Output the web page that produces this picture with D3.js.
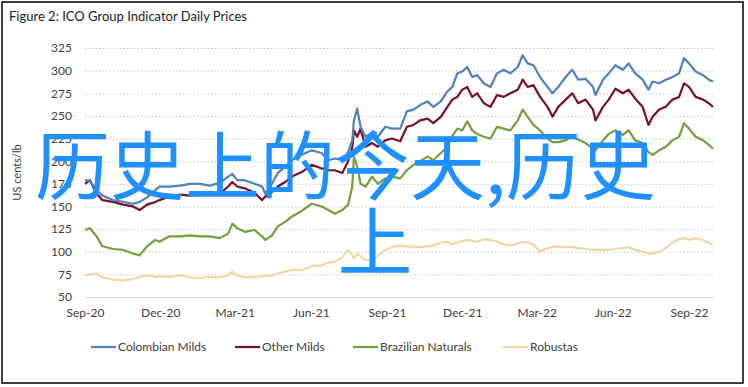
<!DOCTYPE html>
<html>
<head>
<meta charset="utf-8">
<script src="https://cdn.jsdelivr.net/npm/d3@7"></script>
<style>
  body { margin: 0; background: #fff; }
  svg { display: block; font-family: Lato, "Open Sans", sans-serif; }
</style>
</head>
<body>
<script>
// ICO group indicator prices, US cents/lb
const dates = [
  "2020-09-01","2020-09-07","2020-09-15","2020-09-22","2020-10-05","2020-10-17","2020-10-29","2020-11-06",
  "2020-11-15","2020-11-25","2020-11-30","2020-12-12","2020-12-25","2021-01-06","2021-01-18","2021-01-30",
  "2021-02-11","2021-02-21","2021-02-26","2021-03-04","2021-03-13","2021-03-25","2021-04-03","2021-04-07",
  "2021-04-15","2021-04-22","2021-05-01","2021-05-09","2021-05-21","2021-06-02","2021-06-14","2021-06-22",
  "2021-06-30","2021-07-09","2021-07-16","2021-07-21","2021-07-23","2021-07-27","2021-07-31","2021-08-06",
  "2021-08-14","2021-08-21","2021-08-30","2021-09-07","2021-09-17","2021-09-25","2021-10-03","2021-10-11",
  "2021-10-20","2021-10-27","2021-11-05","2021-11-13","2021-11-19","2021-11-25","2021-12-01","2021-12-07",
  "2021-12-13","2021-12-19","2021-12-27","2022-01-04","2022-01-12","2022-01-20","2022-01-28","2022-02-06",
  "2022-02-12","2022-02-18","2022-02-25","2022-03-05","2022-03-14","2022-03-20","2022-03-27","2022-04-05",
  "2022-04-13","2022-04-20","2022-04-29","2022-05-08","2022-05-11","2022-05-20","2022-05-27","2022-06-04",
  "2022-06-13","2022-06-20","2022-06-28","2022-07-07","2022-07-14","2022-07-19","2022-07-27","2022-08-04",
  "2022-08-12","2022-08-20","2022-08-26","2022-09-01","2022-09-09","2022-09-18","2022-09-25","2022-09-30"
];

const colombianMilds = [
  179,178,168,162,157,155,153,155,160,168,172,172,173,175,175,173,
  176,183,186,179,179,175,172,164,175,187,194,201,207,212,209,201,
  203,201,210,223,245,258,238,227,231,227,238,236,236,255,257,262,
  266,260,266,277,282,297,299,304,293,295,286,282,297,301,297,304,
  317,308,306,293,282,275,282,293,301,290,291,282,273,290,297,306,
  301,308,297,290,279,288,286,290,293,297,314,308,299,295,290,288
];

const otherMilds = [
  175,179,164,157,155,152,150,146,152,155,157,161,163,162,164,163,
  164,172,177,172,170,165,157,161,166,172,177,183,188,196,192,190,
  190,187,200,215,234,227,236,216,220,216,223,225,222,238,240,245,
  247,242,249,260,268,271,279,282,271,275,264,260,273,271,275,279,
  290,282,284,271,260,249,260,268,275,264,268,257,245,260,268,280,
  275,279,269,260,240,249,257,260,268,271,286,282,271,268,264,260
];

const brazilianNaturals = [
  124,126,117,106,103,102,98,96,106,113,111,117,117,118,117,117,
  115,120,131,126,122,124,117,113,118,128,133,139,145,153,150,146,
  142,146,152,172,205,194,175,172,183,175,181,183,181,190,196,200,
  205,201,209,216,228,236,234,244,234,230,227,225,238,236,234,245,
  257,249,240,234,225,221,221,223,227,224,220,214,212,223,230,234,
  229,234,223,220,210,207,212,216,223,227,242,236,227,223,218,214
];

const robustas = [
  74,75,76,72,69,68,70,72,74,72,73,72,74,72,71,72,
  72,74,78,74,72,72,73,73,74,76,78,80,80,84,85,88,
  89,94,102,96,93,98,95,91,90,96,102,105,107,106,105,105,
  106,107,110,111,108,110,112,113,112,111,114,113,111,108,107,109,
  111,110,108,100,104,105,106,105,105,104,103,102,102,102,102,103,
  104,105,102,100,98,98,100,104,110,114,115,113,115,113,110,108
];

const seriesNames = ["Colombian Milds", "Other Milds", "Brazilian Naturals", "Robustas"];
const seriesColors = ["#4f81bd", "#7a0f2a", "#72a03c", "#eed8a4"];
const yTicks = [50, 75, 100, 125, 150, 175, 200, 225, 250, 275, 300, 325];
const xTicks = ["2020-09-01","2020-12-01","2021-03-01","2021-06-01","2021-09-01","2021-12-01","2022-03-01","2022-06-01","2022-09-01"];
const xDomain = ["2020-09-01", "2022-09-30"];

const W = 748, H = 387;
const plotLeft = 85, plotRight = 713, plotTop = 48, plotBottom = 297;
const parse = d3.timeParse("%Y-%m-%d");

const svg = d3.select("body").append("svg").attr("width", W).attr("height", H);

svg.append("rect")
  .attr("x", 2).attr("y", 2).attr("width", 741).attr("height", 381)
  .attr("fill", "#fff").attr("stroke", "#000").attr("stroke-width", 1.5);

svg.append("text")
  .attr("x", 9).attr("y", 21)
  .attr("font-size", 13).attr("fill", "#222")
  .text("Figure 2: ICO Group Indicator Daily Prices");

const x = d3.scaleTime().domain(xDomain.map(parse)).range([plotLeft, plotRight]);
const y = d3.scaleLinear().domain([50, 325]).range([plotBottom, plotTop]);

// dotted gridlines
svg.append("g")
  .attr("transform", "translate(" + plotLeft + ",0)")
  .call(d3.axisLeft(y).tickValues(yTicks.slice(1)).tickSize(-(plotRight - plotLeft)).tickFormat(""))
  .call(g => g.select(".domain").remove())
  .call(g => g.selectAll(".tick line")
    .attr("stroke", "#c8c8c8").attr("stroke-dasharray", "1.5,2").attr("stroke-width", 1));

// y labels
svg.append("g")
  .attr("transform", "translate(" + plotLeft + ",0)")
  .call(d3.axisLeft(y).tickValues(yTicks).tickSize(0).tickPadding(13))
  .call(g => g.select(".domain").remove())
  .call(g => g.selectAll("text")
    .attr("font-family", "Lato, sans-serif").attr("font-size", 12).attr("fill", "#404040"));

// x axis
svg.append("g")
  .attr("transform", "translate(0," + plotBottom + ")")
  .call(d3.axisBottom(x).tickValues(xTicks.map(parse)).tickSize(0).tickPadding(11)
    .tickFormat(d3.timeFormat("%b-%y")))
  .call(g => g.select(".domain").attr("stroke", "#d4d4d4").attr("stroke-width", 1.2))
  .call(g => g.selectAll("text")
    .attr("font-family", "Lato, sans-serif").attr("font-size", 12).attr("fill", "#404040"));

svg.append("text")
  .attr("transform", "translate(21," + (plotTop + plotBottom) / 2 + ") rotate(-90)")
  .attr("text-anchor", "middle")
  .attr("font-size", 11).attr("fill", "#404040")
  .text("US cents/lb");

const allSeries = [colombianMilds, otherMilds, brazilianNaturals, robustas];
const line = d3.line()
  .x((d, i) => x(parse(dates[i])))
  .y(d => y(d));

// draw back to front so Colombian sits on top
[3, 2, 1, 0].forEach(function (k) {
  svg.append("path")
    .datum(allSeries[k])
    .attr("fill", "none")
    .attr("stroke", seriesColors[k])
    .attr("stroke-width", 2.2)
    .attr("stroke-linejoin", "round")
    .attr("d", line);
});

// legend
const legendX = [91, 235, 353, 503];
const legend = svg.append("g");
seriesNames.forEach(function (name, i) {
  legend.append("line")
    .attr("x1", legendX[i]).attr("x2", legendX[i] + 25)
    .attr("y1", 347).attr("y2", 347)
    .attr("stroke", seriesColors[i]).attr("stroke-width", 2.2);
  legend.append("text")
    .attr("x", legendX[i] + 27).attr("y", 351)
    .attr("font-size", 12).attr("fill", "#404040")
    .text(name);
});

// overlay text
const wm = svg.append("g")
  .attr("font-family", "'Noto Sans CJK SC', sans-serif")
  .attr("font-size", 75)
  .attr("fill", "#1e90ff");
wm.append("text").attr("x", 35).attr("y", 194).text("历史上的今天,历史");
wm.append("text").attr("x", 375).attr("y", 270).attr("text-anchor", "middle").text("上");
</script>
</body>
</html>
